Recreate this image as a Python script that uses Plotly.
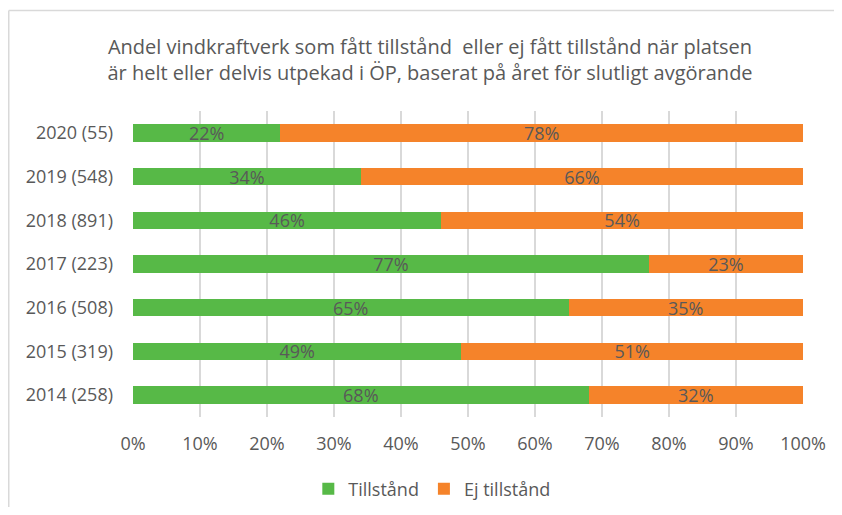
import plotly.graph_objects as go

categories = ["2014 (258)", "2015 (319)", "2016 (508)", "2017 (223)", "2018 (891)", "2019 (548)", "2020 (55)"]
tillstand = [68, 49, 65, 77, 46, 34, 22]
ej_tillstand = [32, 51, 35, 23, 54, 66, 78]
x_ticks = [0, 10, 20, 30, 40, 50, 60, 70, 80, 90, 100]

FONT = "Open Sans"
GREY = "#595959"

# page has an 8px body margin; figure sized to fit the 842x515 window
OFF = 8
W, H = 842 - 2 * OFF, 515 - 2 * OFF
L, R, T, B = 133 - OFF, W - (803 - OFF), 111 - OFF, H - (417 - OFF)
pw, ph = W - L - R, H - T - B

def px_x(p):
    return (p - L) / pw

def px_y(p):
    return (H - B - p) / ph

fig = go.Figure()
fig.add_trace(go.Bar(
    y=categories, x=tillstand, orientation="h", name="Tillstånd",
    marker=dict(color="#57B947", line=dict(width=0)),
    text=[f"{v}%" for v in tillstand], textposition="inside",
    insidetextanchor="middle", constraintext="none",
    textfont=dict(color=GREY, size=18, family=FONT),
))
fig.add_trace(go.Bar(
    y=categories, x=ej_tillstand, orientation="h", name="Ej tillstånd",
    marker=dict(color="#F5832A", line=dict(width=0)),
    text=[f"{v}%" for v in ej_tillstand], textposition="inside",
    insidetextanchor="middle", constraintext="none",
    textfont=dict(color=GREY, size=18, family=FONT),
))

fig.update_layout(
    width=W, height=H,
    barmode="stack", bargap=0.6,
    margin=dict(l=L, r=R, t=T, b=B, autoexpand=False),
    paper_bgcolor="white", plot_bgcolor="white",
    font=dict(family=FONT, color=GREY, size=18),
    title=dict(
        text="Andel vindkraftverk som fått tillstånd  eller ej fått tillstånd när platsen<br>är helt eller delvis utpekad i ÖP, baserat på året för slutligt avgörande",
        x=(430 - OFF) / W, xanchor="center", xref="container",
        y=1 - (54 - OFF) / H, yanchor="middle", yref="container",
        font=dict(family=FONT, size=20, color=GREY),
    ),
    xaxis=dict(
        range=[0, 100], tickvals=x_ticks, ticktext=[f"{v}%" for v in x_ticks],
        showgrid=True, gridcolor="#D9D9D9", gridwidth=1.5, zeroline=False,
        showline=False, ticks="", tickfont=dict(size=18, color=GREY), ticklabelstandoff=14,
        automargin=False,
    ),
    yaxis=dict(
        categoryorder="array", categoryarray=categories,
        showgrid=False, zeroline=False, showline=False, ticks="",
        tickfont=dict(size=18, color=GREY), ticklabelstandoff=19, automargin=False,
    ),
    legend=dict(
        orientation="h", x=0.446, xanchor="center", y=px_y(489 - OFF), yanchor="middle",
        font=dict(size=18, color=GREY), traceorder="normal", itemwidth=30,
    ),
    showlegend=True,
    shapes=[
        dict(type="line", xref="paper", yref="paper", x0=px_x(0.75), x1=px_x(W),
             y0=px_y(10.5 - OFF), y1=px_y(10.5 - OFF), line=dict(color="#D9D9D9", width=1.5)),
        dict(type="line", xref="paper", yref="paper", x0=px_x(0.75), x1=px_x(0.75),
             y0=px_y(10.5 - OFF), y1=px_y(H), line=dict(color="#D9D9D9", width=1.5)),
    ],
)

fig.write_html("out.html")
